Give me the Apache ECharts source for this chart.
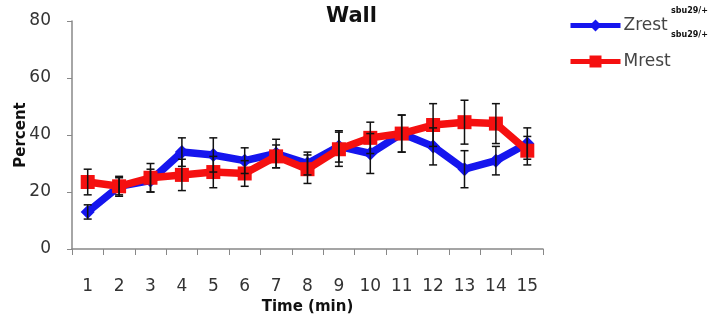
<!DOCTYPE html>
<html><head><meta charset="utf-8">
<script src="https://cdn.jsdelivr.net/npm/echarts@6/dist/echarts.min.js"></script>
<style>html,body{margin:0;padding:0;background:#fff}#c{width:717px;height:320px}</style>
</head><body><div id="c"></div>
<script>
var categories = ['1','2','3','4','5','6','7','8','9','10','11','12','13','14','15'];
var zrest = [13, 22, 24, 34, 33, 31, 33.5, 30, 36, 33.5, 40.5, 36, 28, 31, 37];
var zrestErr = [2.5, 3, 4, 5, 6, 4.5, 5, 4, 5.5, 7, 6.5, 6.5, 6.5, 5, 5.5];
var mrest = [23.5, 22, 25, 26, 27, 26.5, 32.5, 28, 35, 39, 40.5, 43.5, 44.5, 44, 34.5];
var mrestErr = [4.5, 3.5, 5, 5.5, 5.5, 4.5, 4, 5, 6, 5.5, 6.5, 7.5, 7.7, 7, 5];
var yTicks = [0, 20, 40, 60, 80];

function errData(v, e) { return v.map(function (y, i) { return [i, y - e[i], y + e[i]]; }); }
function errSeries(v, e) {
  return {
    type: 'custom', z: 5, silent: true,
    data: errData(v, e),
    renderItem: function (params, api) {
      var lo = api.coord([api.value(0), api.value(1)]);
      var hi = api.coord([api.value(0), api.value(2)]);
      var w = 4;
      var st = { stroke: '#111', lineWidth: 1.5 };
      return { type: 'group', children: [
        { type: 'line', shape: { x1: lo[0], y1: lo[1], x2: hi[0], y2: hi[1] }, style: st },
        { type: 'line', shape: { x1: lo[0] - w, y1: lo[1], x2: lo[0] + w, y2: lo[1] }, style: st },
        { type: 'line', shape: { x1: hi[0] - w, y1: hi[1], x2: hi[0] + w, y2: hi[1] }, style: st }
      ]};
    }
  };
}

var chart = echarts.init(document.getElementById('c'), null, { renderer: 'canvas' });
chart.setOption({
  animation: false,
  backgroundColor: '#fff',
  textStyle: { fontFamily: 'DejaVu Sans' },
  title: { text: 'Wall', left: 321, top: 1, textStyle: { fontSize: 21, fontWeight: 'bold', color: '#111', fontFamily: 'DejaVu Sans' } },
  legend: {
    orient: 'vertical', left: 563, top: 12, itemWidth: 50, itemHeight: 15, itemGap: 19,
    textStyle: { fontSize: 17, color: '#444', fontFamily: 'DejaVu Sans', padding: [0, 0, 0, -2] },
    lineStyle: { width: 5 },
    data: ['Zrest', 'Mrest']
  },
  graphic: [
    { type: 'text', left: 671, top: 7, style: { text: 'sbu29/+', fontSize: 8, fontWeight: 'bold', fill: '#111', fontFamily: 'DejaVu Sans' } },
    { type: 'text', left: 671, top: 31, style: { text: 'sbu29/+', fontSize: 8, fontWeight: 'bold', fill: '#111', fontFamily: 'DejaVu Sans' } }
  ],
  grid: { left: 72, right: 174, top: 21, bottom: 71, outerBoundsMode: 'none', containLabel: false },
  xAxis: {
    type: 'category', data: categories, boundaryGap: true,
    name: 'Time (min)', nameLocation: 'middle', nameGap: 50,
    nameTextStyle: { fontSize: 15, fontWeight: 'bold', color: '#111' },
    axisLine: { lineStyle: { color: '#888', width: 1.5 } },
    axisTick: { show: true, length: 6, inside: false, alignWithLabel: false, lineStyle: { color: '#888' } },
    axisLabel: { fontSize: 17, color: '#333', margin: 29 }
  },
  yAxis: {
    type: 'value', min: 0, max: 80, interval: 20,
    name: 'Percent', nameLocation: 'middle', nameGap: 43, nameRotate: 90, nameMoveOverlap: false,
    nameTextStyle: { fontSize: 15, fontWeight: 'bold', color: '#111' },
    axisLine: { show: true, lineStyle: { color: '#888', width: 1.5 } },
    axisTick: { show: true, length: 5, lineStyle: { color: '#888' } },
    axisLabel: { fontSize: 17, color: '#333', margin: 21, formatter: function (v) { return yTicks.indexOf(v) >= 0 ? String(v) : ''; } },
    splitLine: { show: false }
  },
  series: [
    { name: 'Zrest', type: 'line', data: zrest, z: 3, color: '#1515ee',
      lineStyle: { width: 7.5, color: '#1515ee' }, symbol: 'diamond', symbolSize: 14,
      itemStyle: { color: '#1515ee' } },
    { name: 'Mrest', type: 'line', data: mrest, z: 4, color: '#f51010',
      lineStyle: { width: 7.5, color: '#f51010' }, symbol: 'rect', symbolSize: 14,
      itemStyle: { color: '#f51010' } },
    errSeries(zrest, zrestErr),
    errSeries(mrest, mrestErr)
  ]
});
</script></body></html>
